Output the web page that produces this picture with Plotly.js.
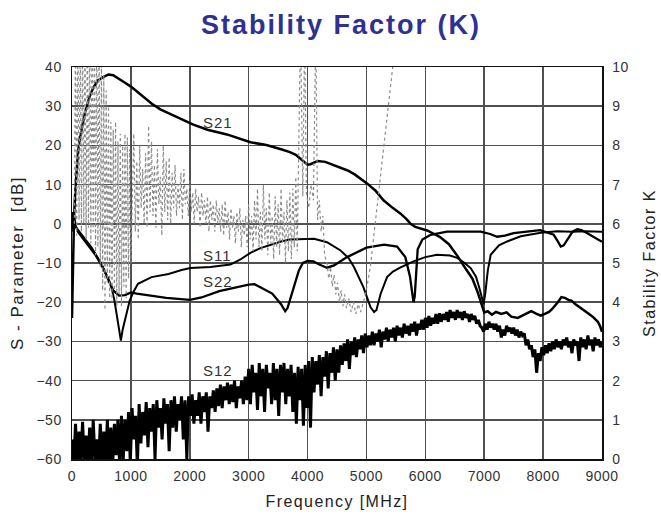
<!DOCTYPE html>
<html><head><meta charset="utf-8">
<script src="https://cdn.plot.ly/plotly-3.0.1.min.js"></script>
<style>
html,body{margin:0;padding:0;background:#fff;}
#chart{width:661px;height:517px;}
.gtitle{letter-spacing:2px;}
.xtitle{letter-spacing:1.4px;}
.ytitle,.y2title{letter-spacing:1.5px;}
.xtick text,.ytick text,.y2tick text{letter-spacing:0.5px;}
.annotation-text{letter-spacing:1px;}
</style></head><body><div id="chart"></div>
<script>
// ---- data ----
const xTicks = [0,1000,2000,3000,4000,5000,6000,7000,8000,9000];
const seriesLabels = ['S21','S11','S22','S12'];

const s21x = [0,10,20,35,55,75,100,130,160,185,215,240,270,300,360,440,530,620,700,780,900,1000,1100,1200,1350,1500,1650,1800,2060,2300,2630,3030,3300,3550,3700,3800,3880,3950,4000,4050,4100,4170,4300,4450,4680,4800,5010,5150,5290,5450,5580,5680,5750,5830,5950,6030,6150,6250,6400,6550,6700,6800,6890,6950,7000,7060,7130,7200,7290,7380,7460,7570,7650,7720,7800,7880,7960,8030,8100,8150,8200,8250,8310,8370,8430,8480,8550,8620,8700,8780,8850,8930,8970,9000];
const s21y = [-24,-14,-4,2,8,14,18,21.5,24,26,28,29.5,31,32.5,34.7,36.6,37.4,38.1,37.9,37.2,36,35,33.8,32.4,30.7,29.2,28.1,27,25.3,24,22.8,20.8,20.1,19.0,18.3,17.6,16.6,15.5,15.1,15.2,15.6,16.0,15.8,15.0,13.6,12.6,10.3,8.5,6.0,4.0,2.6,1.2,0.0,-0.8,-1.3,-1.7,-2.6,-3.4,-5.2,-8.3,-11.8,-14,-17.5,-20.5,-22.6,-22.3,-23.2,-22.5,-23.0,-22.6,-23.7,-24.0,-23.4,-22.8,-22.3,-22.9,-23.4,-23.0,-22.5,-21.8,-21.0,-20.0,-18.7,-18.9,-19.4,-19.6,-20.5,-21.2,-22.2,-23.0,-23.8,-25.0,-26.2,-27.6];

const s11x = [0,10,20,35,50,150,330,500,600,670,720,760,800,830,860,900,940,980,1050,1120,1350,1640,1860,2010,2350,2690,2860,3030,3200,3370,3550,3700,3990,4110,4330,4560,4700,4790,4950,5070,5130,5170,5240,5350,5450,5580,5800,6000,6200,6420,6540,6650,6770,6860,6920,6960,6990,7020,7060,7110,7250,7390,7620,7960,8240,8500,8700,9000];
const s11y = [-1,2.5,-2,1.5,-0.5,-2.5,-6,-10.2,-13.5,-16.2,-19.5,-23,-27,-29.8,-27,-24.5,-22,-19.6,-17.2,-15.3,-13.6,-12.8,-11.8,-11.3,-11.0,-10.4,-9.1,-7.4,-6.2,-5.3,-4.5,-4.0,-3.8,-3.8,-4.7,-6.8,-8.8,-11.1,-16.2,-21.3,-22.5,-22,-17.9,-13.6,-12.2,-11.1,-9.6,-8.5,-7.9,-8.1,-8.7,-9.8,-11.3,-13.5,-16.5,-19,-20.5,-17.5,-12,-7.9,-5.5,-4.5,-3.2,-2.3,-1.9,-2.0,-1.9,-2.0];

const s22x = [0,10,20,35,50,100,200,300,400,500,600,700,800,900,1000,1100,1300,1600,2000,2200,2500,2800,3000,3100,3200,3400,3550,3620,3660,3700,3780,3850,3920,4000,4100,4200,4330,4450,4670,5000,5300,5520,5660,5740,5780,5800,5820,5840,5870,5950,6090,6370,6700,6940,7100,7220,7350,7500,7950,8180,8250,8300,8350,8420,8500,8580,8650,8750,8870,9000];
const s22y = [0.5,3,-1,2,0,-2,-4,-6,-8,-10.5,-13.5,-17,-18.3,-18.2,-17.5,-17.8,-18.3,-18.9,-19.4,-18.8,-17.2,-16.2,-15.5,-15.4,-16.2,-17.8,-20.5,-22.3,-21.5,-19.5,-15,-12,-10,-9.5,-9.6,-10.4,-11.2,-10.6,-8.5,-6.1,-5.3,-5.8,-8.5,-13.5,-18,-20,-18.5,-12.5,-6.5,-4.0,-2.8,-2.0,-2.0,-2.0,-2.6,-3.3,-3.0,-2.4,-1.6,-2.8,-4.5,-5.8,-5.5,-3.8,-2.0,-1.4,-1.6,-2.4,-3.4,-4.6];

// S12 sweep: one reading every 30 MHz from 0 to 9000 MHz
const s12Step = 30;
const s12y = [
-55,-61,-51,-62,-53,-60,-50.5,-62,-54,-61,
-52,-62,-50,-60,-55,-62,-51,-61,-53,-62,
-50,-61,-52,-62,-51,-59,-50,-62,-49,-60,
-50,-58,-48,-61,-47,-55,-49,-62,-46,-56,
-48,-54,-45.5,-57,-47,-53,-46,-60,-45,-52,
-47,-55,-44.5,-51,-46,-58,-45,-52,-44,-53,
-46,-50,-44,-55,-45,-60,-44,-49,-43.5,-51,
-45,-49,-43,-51,-44,-48,-43,-53,-44,-47,
-42.5,-48,-42,-46.5,-41,-47,-41.5,-45,-40.5,-46,
-41,-45.5,-40,-47,-41.5,-44.5,-40,-46,-39,-45,
-37,-46,-36,-43,-38,-47.5,-35.5,-44,-37,-48,
-36,-42,-38,-46,-35.5,-45,-37,-49,-36,-43,
-35.5,-46,-37,-44,-36,-48,-38,-51,-36.5,-45,
-37,-51.5,-36,-47,-35,-52,-34,-43,-35,-41,
-33.5,-44,-34,-39,-32.5,-42,-33,-38,-31.5,-40,
-32,-38,-31,-36,-30.5,-35,-29.5,-37,-30,-33.5,
-29,-34,-29.5,-32,-28.5,-33,-28,-31.5,-28.5,-31,
-27.5,-31,-28,-30,-27,-31.5,-27.5,-29.5,-26.5,-30,
-27,-29,-26.5,-30,-26,-28.5,-26.5,-29,-25.5,-28,
-26,-28.5,-25.5,-27.5,-25,-28.5,-25.5,-27,-24.5,-27,
-24,-26.5,-23.5,-26,-24,-25.5,-23,-25.5,-22.8,-25,
-23,-24.5,-22.5,-25,-22,-24,-22.5,-24.5,-22,-24,
-22.5,-24.5,-22.3,-24,-23,-25,-23,-24.5,-23.5,-25.5,
-24.5,-26,-26.5,-27.5,-25.5,-27,-25,-26.5,-25.5,-27,
-25.5,-27.5,-26,-29,-27,-28.5,-26,-27.5,-26.5,-28,
-26.5,-28.5,-27,-29,-27.5,-28.5,-28,-31,-29.5,-32,
-31,-34,-32,-38,-33,-35,-31.5,-33.5,-31,-33,
-30.5,-32.5,-30,-32,-29.5,-31.5,-30,-32,-29.5,-31,
-29,-31.5,-30,-33,-29.5,-31,-30,-35,-29,-31.5,
-29.5,-32,-28.5,-31,-29.5,-32.5,-29,-31,-29.5,-31.5,-30];

// Stability factor K (right axis)
const kxLow = [40,60,80,100,120,140,160,180,200,220,240,260,280,300,320,340,360,380,400,420,440,460,480,500,520,540,560,580,600,620,640,660,680,700,720,740,760,780,800,820,840,860,880,900,920,940,960,980,1000];
const kyLow = [6.0,11,5.7,11,6.1,11,5.8,11,6.0,11,5.6,11,5.9,11,5.5,11,5.8,11,5.2,11,5.4,10.8,4.9,10.2,4.3,9.8,3.8,9.4,4.5,9.0,4.1,8.6,4.0,8.4,4.3,8.6,3.9,8.1,4.2,8.3,3.9,8.0,4.4,8.3,4.1,8.2,4.6,7.9,5.0];
const kxMid = [1025,1050,1075,1100,1125,1150,1175,1200,1225,1250,1275,1300,1325,1350,1375,1400,1425,1450,1475,1500,1525,1550,1575,1600,1625,1650,1675,1700,1725,1750,1775,1800,1825,1850,1875,1900,1925,1950,1975,2000,2025,2050,2075,2100,2125,2150,2175,2200,2225,2250,2275,2300,2325,2350,2375,2400,2425,2450,2475,2500,2525,2550,2575,2600,2625,2650,2675,2700,2725,2750,2775,2800,2825,2850,2875,2900,2925,2950,2975,3000,3025,3050,3075,3100,3125,3150,3175,3200,3225,3250,3275,3300,3325,3350,3375,3400,3425,3450,3475,3500,3525,3550,3575,3600,3625,3650,3675,3700,3725,3750,3775,3800,3825,3850];
const kyMid = [7.2,8.3,5.8,7.6, 5.6,8.0,6.4,7.4, 6.0,7.8,5.9,8.5, 6.3,8.1,6.2,7.5, 5.9,7.9,6.5,7.2, 5.7,8.0,6.3,7.6, 6.1,7.7,6.0,7.3, 6.4,7.5,6.2,7.0, 6.4,7.3,6.1,7.4, 6.5,6.9,6.2,7.1, 6.3,6.8,6.0,6.9, 6.3,6.7,5.9,6.8, 6.2,6.6,6.0,6.7, 5.8,6.6,6.1,6.5, 5.8,6.6,6.0,6.4, 5.8,6.5,5.7,6.6, 5.9,6.3,5.6,6.4, 5.9,6.2,5.5,6.3, 5.8,6.4,5.4,6.1, 5.7,6.2,5.4,6.5, 5.6,6.2,5.3,6.6, 5.6,6.9,5.4,6.3, 5.3,7.0,5.6,6.4, 5.2,6.8,5.5,6.2, 5.1,6.7,5.4,6.5, 5.2,6.9,5.5,6.3, 5.0,6.6,5.3,6.8, 5.1,6.9,5.4,7.2, 5.3,7.5];
const kxHigh = [3880,3920,3950,3980,4020,4060,4100,4140,4170,4200,4230,4260,4290,4330,4360,4390,4420,4450,4480,4510,4540,4570,4600,4630,4660,4700,4740,4780,4820,4860,4900,4950,5010,5070,5150,5270,5450,5520];
const kyHigh = [11,6.7,11,6.8,6.4,7.0,6.6,11,6.1,6.6,5.8,6.2,5.2,5.0,4.6,4.9,4.4,4.7,4.2,4.5,4.0,4.3,3.9,4.2,3.85,4.1,3.75,4.0,3.7,3.95,3.75,4.0,4.4,4.95,6.0,7.6,10.1,11];

// ---- build ----
const s12x = s12y.map((_, i) => i * s12Step);
const kx = kxLow.concat(kxMid, kxHigh);
const ky = kyLow.concat(kyMid, kyHigh);
const fontFam = 'Liberation Sans, Arial, sans-serif';

const traces = [
  {x: kx, y: ky, yaxis: 'y2', mode: 'lines', name: 'K',
   line: {color: '#8c8c8c', width: 1.2, dash: 'dot'}},
  {x: s12x, y: s12y, mode: 'lines', name: seriesLabels[3], line: {color: '#000', width: 3}},
  {x: s22x, y: s22y, mode: 'lines', name: seriesLabels[2], line: {color: '#000', width: 2.3}},
  {x: s11x, y: s11y, mode: 'lines', name: seriesLabels[1], line: {color: '#000', width: 2}},
  {x: s21x, y: s21y, mode: 'lines', name: seriesLabels[0], line: {color: '#000', width: 2.5}}
];

const labelPos = {S21: [2479, 25.8], S11: [2479, -8.2], S22: [2479, -14.6], S12: [2479, -37.3]};
const annotations = seriesLabels.map(s => ({
  x: labelPos[s][0], y: labelPos[s][1], xref: 'x', yref: 'y', text: s, showarrow: false,
  font: {family: fontFam, size: 15, color: '#333'}
}));

const layout = {
  width: 661, height: 517,
  margin: {l: 72, r: 59, t: 67, b: 58},
  paper_bgcolor: '#fff', plot_bgcolor: '#fff',
  showlegend: false,
  title: {text: '<b>Stability Factor (K)</b>', font: {family: fontFam, size: 27, color: '#2e3192'},
          xref: 'container', x: 0.516, yref: 'container', y: 0.952, yanchor: 'middle', xanchor: 'center'},
  xaxis: {range: [0, 9000], tickvals: xTicks, ticktext: xTicks.map(String), showgrid: true, gridcolor: '#505050', gridwidth: 1.5,
          showline: true, linecolor: '#111', linewidth: 1.5, mirror: true, zeroline: false, ticks: '',
          ticklabelstandoff: 4,
          tickfont: {family: fontFam, size: 14, color: '#333'},
          title: {text: 'Frequency [MHz]', font: {family: fontFam, size: 16, color: '#222'}, standoff: 12}},
  yaxis: {range: [-60, 40], dtick: 10, tick0: 0, showgrid: true, gridcolor: '#505050', gridwidth: 1.5,
          showline: true, linecolor: '#111', linewidth: 1.5, zeroline: false, ticks: '',
          ticklabelstandoff: 6,
          tickfont: {family: fontFam, size: 14, color: '#333'},
          title: {text: 'S - Parameter  [dB]', font: {family: fontFam, size: 17, color: '#222'}, standoff: 8}},
  yaxis2: {range: [0, 10], dtick: 1, tick0: 0, overlaying: 'y', side: 'right', showgrid: false,
           showline: true, linecolor: '#111', linewidth: 1.5, zeroline: false, ticks: '',
           ticklabelstandoff: 6,
           tickfont: {family: fontFam, size: 14, color: '#333'},
           title: {text: 'Stability Factor K', font: {family: fontFam, size: 16, color: '#222'}, standoff: 16}},
  annotations: annotations
};

Plotly.newPlot('chart', traces, layout, {displayModeBar: false, staticPlot: true});
</script></body></html>
